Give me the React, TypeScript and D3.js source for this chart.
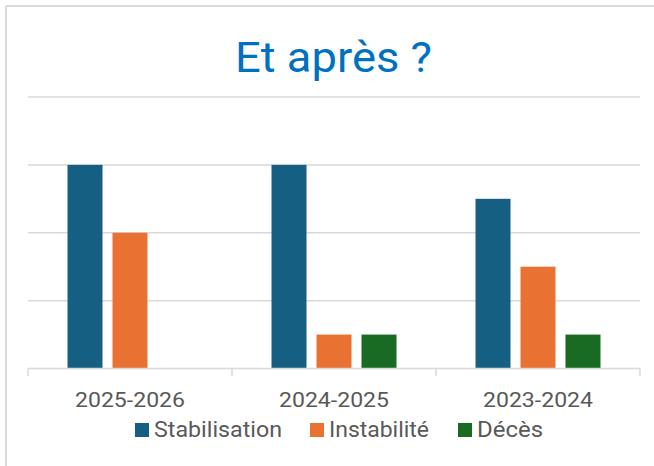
import React from "react";
import * as d3 from "d3";

const categories = ["2025-2026", "2024-2025", "2023-2024"];
const seriesNames = ["Stabilisation", "Instabilité", "Décès"];
const stabilisation = [6, 6, 5];
const instabilite = [4, 1, 3];
const deces = [0, 1, 1];
const yTicks = [0, 2, 4, 6, 8];
const colors = ["#156082", "#E97132", "#196B24"];

const W = 654;
const H = 466;

export default function App() {
  const series = [stabilisation, instabilite, deces];
  const x = d3.scaleBand<string>().domain(categories).range([28, 640]).paddingInner(0).paddingOuter(0);
  const inner = d3.scaleBand<string>().domain(seriesNames).range([0, x.bandwidth()]).paddingInner(0.222).paddingOuter(0.878);
  const y = d3.scaleLinear().domain([0, 8]).range([368.5, 97]);
  const font = "Roboto, 'Liberation Sans', sans-serif";
  const legendItems = [
    { name: seriesNames[0], x: 135, w: 128 },
    { name: seriesNames[1], x: 310, w: 100 },
    { name: seriesNames[2], x: 458, w: 66 },
  ];
  return (
    <svg width={W} height={H} style={{ position: "absolute", left: 0, top: 0 }} fontFamily={font}>
      <rect x={0} y={0} width={W} height={H} fill="#fff" />
      <line x1={6} x2={W} y1={6} y2={6} stroke="#d9d9d9" strokeWidth={2} />
      <line x1={6} x2={6} y1={6} y2={H} stroke="#d9d9d9" strokeWidth={2} />
      <text x={235} y={72} fontSize={42} fill="#0070C0" textLength={197} lengthAdjust="spacingAndGlyphs">Et après ?</text>
      {yTicks.slice(1).map((t) => (
        <line key={t} x1={28} x2={640} y1={y(t)} y2={y(t)} stroke="#d9d9d9" strokeWidth={1.5} />
      ))}
      {categories.map((c, ci) => (
        <g key={c}>
          {series.map((s, si) => (
            s[ci] > 0 ? (
              <rect key={si} x={(x(c) as number) + (inner(seriesNames[si]) as number)} width={inner.bandwidth()}
                y={y(s[ci])} height={y(0) - y(s[ci])} fill={colors[si]} />
            ) : null
          ))}
          <text x={(x(c) as number) + x.bandwidth() / 2} y={407} textAnchor="middle" fontSize={21} fill="#595959"
            textLength={110} lengthAdjust="spacingAndGlyphs">{c}</text>
        </g>
      ))}
      <line x1={28} x2={640} y1={y(0)} y2={y(0)} stroke="#d9d9d9" strokeWidth={1.5} />
      {[...categories.map((c) => x(c) as number), 640].map((tx, i) => (
        <line key={i} x1={tx} x2={tx} y1={y(0)} y2={376} stroke="#d9d9d9" strokeWidth={1.5} />
      ))}
      {legendItems.map((l, i) => (
        <g key={l.name}>
          <rect x={l.x} y={423} width={14} height={14} fill={colors[i]} />
          <text x={l.x + 19} y={437} fontSize={22} fill="#595959" textLength={l.w} lengthAdjust="spacingAndGlyphs">{l.name}</text>
        </g>
      ))}
    </svg>
  );
}
